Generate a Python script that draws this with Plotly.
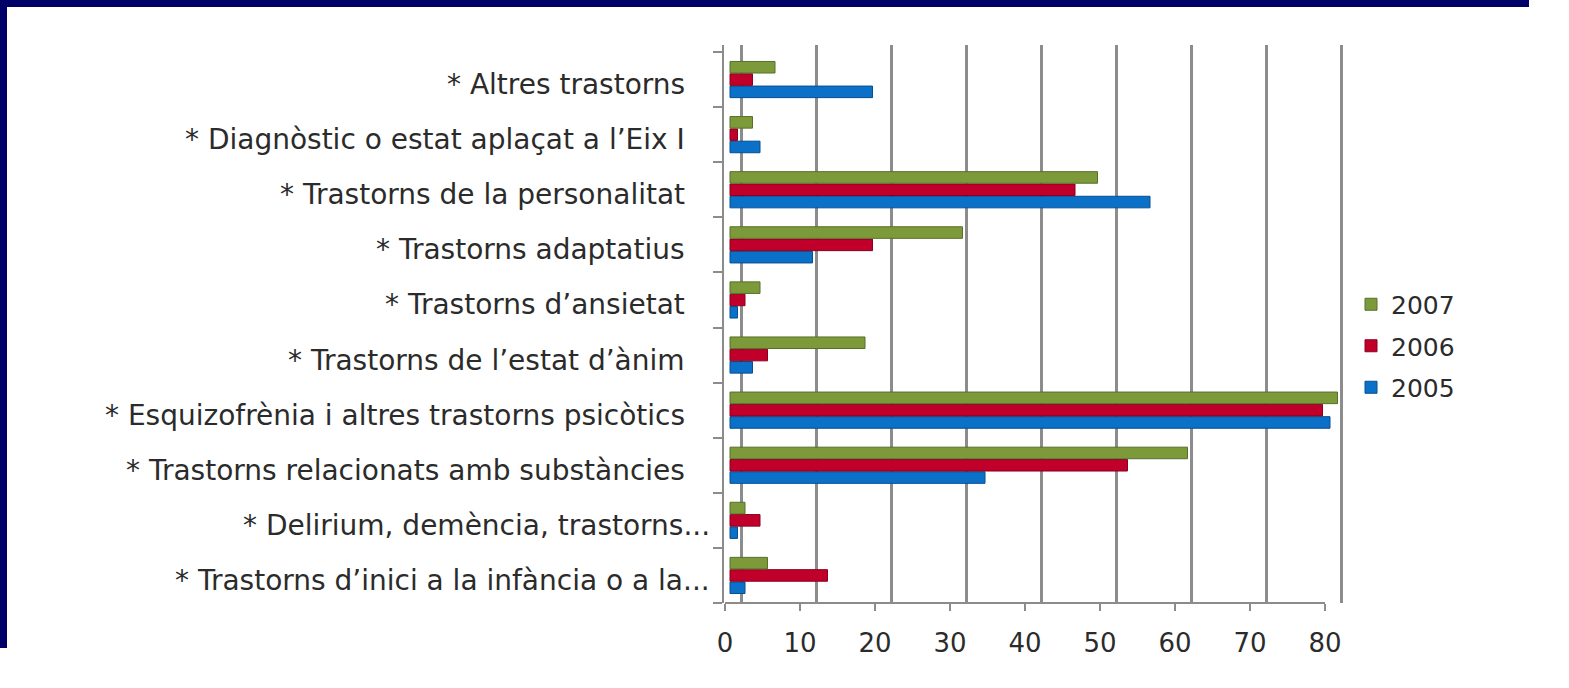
import plotly.graph_objects as go

categories = [
    "* Trastorns d’inici a la infància o a la...",
    "* Delirium, demència, trastorns...",
    "* Trastorns relacionats amb substàncies",
    "* Esquizofrènia i altres trastorns psicòtics",
    "* Trastorns de l’estat d’ànim",
    "* Trastorns d’ansietat",
    "* Trastorns adaptatius",
    "* Trastorns de la personalitat",
    "* Diagnòstic o estat aplaçat a l’Eix I",
    "* Altres trastorns",
]
truncated = [True, True, False, False, False, False, False, False, False, False]

v2005 = [2, 1, 34, 80, 3, 1, 11, 56, 4, 19]
v2006 = [13, 4, 53, 79, 5, 2, 19, 46, 1, 3]
v2007 = [5, 2, 61, 81, 18, 4, 31, 49, 3, 6]

years = ["2005", "2006", "2007"]
colors = ["#0A70C8", "#C0002A", "#7D9A3A"]
edge = ["#064f90", "#8a001e", "#56702a"]
xticks = [0, 10, 20, 30, 40, 50, 60, 70, 80]

W, H = 1569, 688
L, R, T, B = 724, 1345, 45, 603
PPU = 7.5  # pixels per unit

def px(x):
    return (x - L) / (R - L)

def py(y):
    return (B - y) / (B - T)

fig = go.Figure()
for i, (name, vals, c, e) in enumerate(zip(years, [v2005, v2006, v2007], colors, edge)):
    fig.add_trace(go.Bar(
        y=categories, x=vals, name=name, orientation="h",
        marker=dict(color=c, line=dict(color=e, width=1)),
        legendgroup=name, legendrank=3 - i,
    ))

fig.add_trace(go.Scatter(x=[None], y=[categories[0]], xaxis="x2", showlegend=False, hoverinfo="skip"))
fig.add_trace(go.Scatter(x=[None], y=[categories[0]], xaxis="x3", showlegend=False, hoverinfo="skip"))

font = "DejaVu Sans"
txt = "#2b2b2b"

shapes = []
# navy strips at top and left (kept short of the right/bottom edges)
shapes.append(dict(type="rect", xref="paper", yref="paper", x0=px(0), x1=px(W - 40), y0=py(7), y1=py(0),
                   fillcolor="#000066", line=dict(width=0), layer="above"))
shapes.append(dict(type="rect", xref="paper", yref="paper", x0=px(0), x1=px(7), y0=py(H - 40), y1=py(0),
                   fillcolor="#000066", line=dict(width=0), layer="above"))
# front floor baseline
shapes.append(dict(type="line", xref="x2", yref="paper", x0=xticks[0], x1=xticks[-1], y0=0, y1=0,
                   line=dict(color="#8c8c8c", width=2)))

annotations = []
for cat, tr in zip(categories, truncated):
    annotations.append(dict(
        x=px(712 if tr else 687), xref="paper", y=cat, yref="y", text=cat,
        showarrow=False, xanchor="right", yanchor="middle", yshift=-5,
        font=dict(family=font, size=28, color=txt),
    ))

band = (B - 52) / 10.0
yr_top = -0.5 + (B - T) / band

fig.update_layout(
    width=W, height=H,
    margin=dict(l=L, r=W - R, t=T, b=H - B, pad=0),
    paper_bgcolor="white", plot_bgcolor="white",
    barmode="group", bargap=0.33, bargroupgap=0.06,
    showlegend=True,
    legend=dict(x=px(1351), y=py(346), xanchor="left", yanchor="middle",
                traceorder="grouped", tracegroupgap=6,
                font=dict(family=font, size=25, color=txt),
                bgcolor="rgba(0,0,0,0)"),
    xaxis=dict(range=[(L - 730) / PPU, (R - 730) / PPU], showgrid=False, zeroline=False,
               showticklabels=False, showline=False, ticks=""),
    xaxis2=dict(overlaying="x", side="bottom", range=[(L - 725) / PPU, (R - 725) / PPU],
                tickvals=xticks, ticktext=[str(t) for t in xticks], ticks="outside",
                ticklen=7, tickwidth=2, tickcolor="#8c8c8c", showgrid=False, zeroline=False,
                showline=False, tickfont=dict(family=font, size=26, color=txt),
                ticklabelstandoff=10),
    xaxis3=dict(overlaying="x", side="bottom", range=[(L - 741) / PPU, (R - 741) / PPU],
                tickvals=xticks, showgrid=True, gridcolor="#8c8c8c", gridwidth=2.5,
                zeroline=False, showticklabels=False, ticks="", showline=False),
    yaxis=dict(type="category", categoryorder="array", categoryarray=categories,
               range=[-0.5, yr_top], showticklabels=False, tickson="boundaries",
               ticks="outside", ticklen=9, tickwidth=2, tickcolor="#8c8c8c",
               showline=True, linecolor="#8c8c8c", linewidth=2, showgrid=False, zeroline=False),
    shapes=shapes,
    annotations=annotations,
)

fig.write_html("out.html", config={"displayModeBar": False},
               post_script="document.body.style.margin='0';document.body.style.overflow='hidden';"
                           "document.documentElement.style.background='white';")
